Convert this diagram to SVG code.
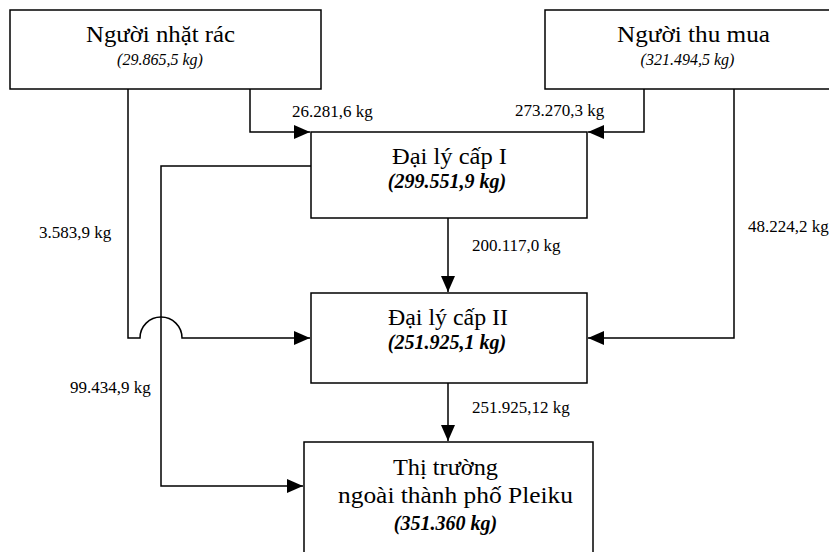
<svg xmlns="http://www.w3.org/2000/svg" width="829" height="552" viewBox="0 0 829 552">
<style>
.box{fill:#fff;stroke:#000;stroke-width:1.5}
.ln{fill:none;stroke:#000;stroke-width:1.5}
.t{font-size:24px;text-anchor:middle}
.s{font-size:16px;font-style:italic;text-anchor:middle}
.b{font-size:20px;font-style:italic;font-weight:bold;text-anchor:middle}
.l{font-size:17px}
</style>
<defs>
<marker id="a" viewBox="0 0 16 14" refX="16" refY="7" markerWidth="16" markerHeight="14" markerUnits="userSpaceOnUse" orient="auto">
<path d="M0,0 L16,7 L0,14 z" fill="#000"/>
</marker>
</defs>
<g font-family="Liberation Serif, DejaVu Serif, serif" fill="#000">
<g id="connectors">
<path class="ln" d="M250,89 V132 H310" marker-end="url(#a)"/>
<path class="ln" d="M644,89 V132 H588" marker-end="url(#a)"/>
<path class="ln" d="M128,89 V338 H140 A21,21 0 0 1 182,338 H310" marker-end="url(#a)"/>
<path class="ln" d="M311,166 H161 V486 H303" marker-end="url(#a)"/>
<path class="ln" d="M448,218 V292" marker-end="url(#a)"/>
<path class="ln" d="M734,89 V338 H588" marker-end="url(#a)"/>
<path class="ln" d="M448,383 V441" marker-end="url(#a)"/>
<text class="l" x="292" y="117">26.281,6 kg</text>
<text class="l" x="515" y="116">273.270,3 kg</text>
<text class="l" x="39" y="238">3.583,9 kg</text>
<text class="l" x="472" y="251">200.117,0 kg</text>
<text class="l" x="748" y="232">48.224,2 kg</text>
<text class="l" x="70" y="393">99.434,9 kg</text>
<text class="l" x="472" y="413">251.925,12 kg</text>
</g>
<g id="n1">
<rect class="box" x="10" y="10" width="311" height="79"/>
<text class="t" x="160.5" y="42" textLength="149" lengthAdjust="spacingAndGlyphs">Người nhặt rác</text>
<text class="s" x="160" y="65">(29.865,5 kg)</text>
</g>
<g id="n2">
<rect class="box" x="545" y="10" width="295" height="79"/>
<text class="t" x="693.5" y="42" textLength="153" lengthAdjust="spacingAndGlyphs">Người thu mua</text>
<text class="s" x="687.5" y="65">(321.494,5 kg)</text>
</g>
<g id="n3">
<rect class="box" x="311" y="132" width="276" height="86"/>
<text class="t" x="449.5" y="164" textLength="115" lengthAdjust="spacingAndGlyphs">Đại lý cấp I</text>
<text class="b" x="447" y="188">(299.551,9 kg)</text>
</g>
<g id="n4">
<rect class="box" x="311" y="293" width="276" height="90"/>
<text class="t" x="448" y="325" textLength="120" lengthAdjust="spacingAndGlyphs">Đại lý cấp II</text>
<text class="b" x="447" y="349">(251.925,1 kg)</text>
</g>
<g id="n5">
<rect class="box" x="304" y="442" width="289" height="120"/>
<text class="t" x="445.5" y="475" textLength="105" lengthAdjust="spacingAndGlyphs">Thị trường</text>
<text class="t" x="455.5" y="503" textLength="235" lengthAdjust="spacingAndGlyphs">ngoài thành phố Pleiku</text>
<text class="b" x="445.5" y="530">(351.360 kg)</text>
</g>
</g>
</svg>
